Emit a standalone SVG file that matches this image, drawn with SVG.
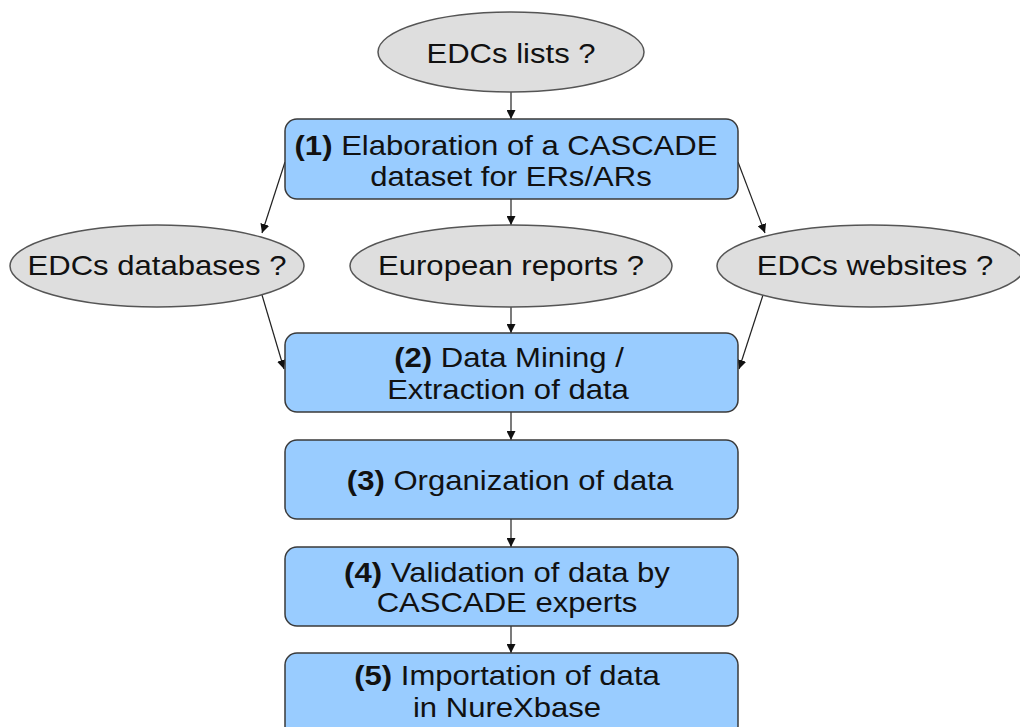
<svg xmlns="http://www.w3.org/2000/svg" width="1020" height="727" viewBox="0 0 1020 727">
<defs>
<marker id="ah" viewBox="0 0 10 10" refX="10" refY="5" markerWidth="9" markerHeight="9" markerUnits="userSpaceOnUse" orient="auto">
<path d="M0,0 L10,5 L0,10 z" fill="#111"/>
</marker>
<style>
.box{fill:#99ccff;stroke:#3a3a3a;stroke-width:1.5}
.ell{fill:#dedede;stroke:#555;stroke-width:1.5}
.t{font-family:"Liberation Sans",Arial,sans-serif;font-size:27.5px;fill:#111;text-anchor:middle}
.b{font-weight:bold}
.c{stroke:#222;stroke-width:1.2;fill:none;marker-end:url(#ah)}
</style>
</defs>
<rect width="1020" height="727" fill="#fff"/>
<g id="connectors">
<line class="c" x1="511" y1="92" x2="511" y2="119"/>
<line class="c" x1="285" y1="162" x2="262" y2="233"/>
<line class="c" x1="511" y1="199" x2="511" y2="225"/>
<line class="c" x1="738" y1="162" x2="765" y2="233"/>
<line class="c" x1="262" y1="295" x2="284" y2="369"/>
<line class="c" x1="511" y1="306" x2="511" y2="333"/>
<line class="c" x1="763" y1="295" x2="739" y2="369"/>
<line class="c" x1="511" y1="412" x2="511" y2="440"/>
<line class="c" x1="511" y1="519" x2="511" y2="547"/>
<line class="c" x1="511" y1="626" x2="511" y2="653"/>
</g>
<g id="n-lists">
<ellipse class="ell" cx="511" cy="52" rx="133" ry="40"/>
<text class="t" transform="translate(511,63) scale(1.13,1)">EDCs lists ?</text>
</g>
<g id="n-step1">
<rect class="box" x="285" y="119" width="453" height="80" rx="12"/>
<text class="t" transform="translate(506,155) scale(1.13,1)"><tspan class="b">(1)</tspan> Elaboration of a CASCADE</text>
<text class="t" transform="translate(511,186) scale(1.13,1)">dataset for ERs/ARs</text>
</g>
<g id="n-databases">
<ellipse class="ell" cx="157" cy="266" rx="147" ry="41"/>
<text class="t" transform="translate(157,275) scale(1.13,1)">EDCs databases ?</text>
</g>
<g id="n-reports">
<ellipse class="ell" cx="511" cy="266" rx="161" ry="41"/>
<text class="t" transform="translate(511,275) scale(1.13,1)">European reports ?</text>
</g>
<g id="n-websites">
<ellipse class="ell" cx="871" cy="266" rx="154" ry="41"/>
<text class="t" transform="translate(875,275) scale(1.13,1)">EDCs websites ?</text>
</g>
<g id="n-step2">
<rect class="box" x="285" y="333" width="453" height="79" rx="12"/>
<text class="t" transform="translate(509,367) scale(1.13,1)"><tspan class="b">(2)</tspan> Data Mining /</text>
<text class="t" transform="translate(508,399) scale(1.13,1)">Extraction of data</text>
</g>
<g id="n-step3">
<rect class="box" x="285" y="440" width="453" height="79" rx="12"/>
<text class="t" transform="translate(510,490) scale(1.13,1)"><tspan class="b">(3)</tspan> Organization of data</text>
</g>
<g id="n-step4">
<rect class="box" x="285" y="547" width="453" height="79" rx="12"/>
<text class="t" transform="translate(507,582) scale(1.13,1)"><tspan class="b">(4)</tspan> Validation of data by</text>
<text class="t" transform="translate(507,612) scale(1.13,1)">CASCADE experts</text>
</g>
<g id="n-step5">
<rect class="box" x="285" y="653" width="453" height="85" rx="12"/>
<text class="t" transform="translate(507,685) scale(1.13,1)"><tspan class="b">(5)</tspan> Importation of data</text>
<text class="t" transform="translate(507,717) scale(1.13,1)">in NureXbase</text>
</g>
</svg>
